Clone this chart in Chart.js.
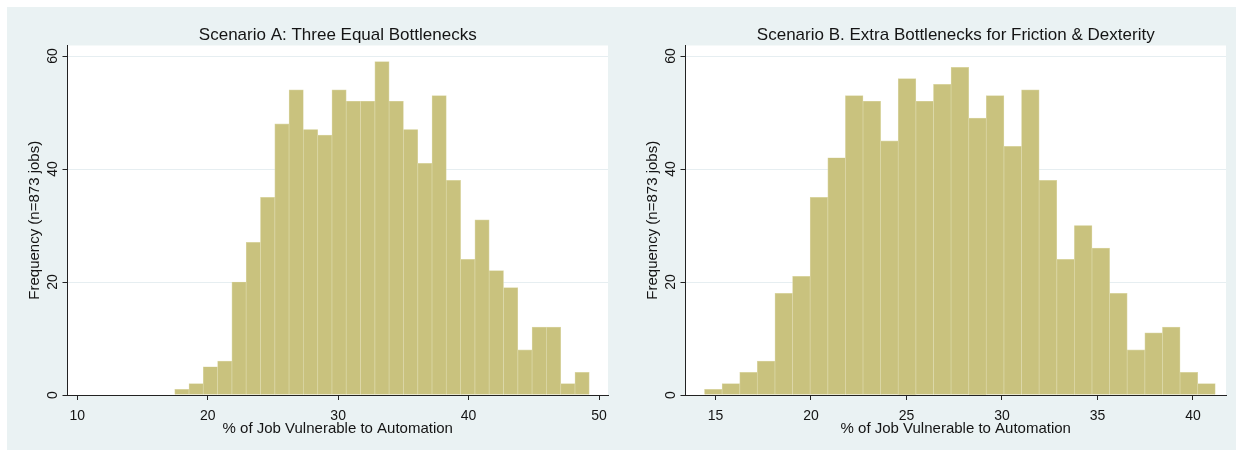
<!DOCTYPE html>
<html>
<head>
<meta charset="utf-8">
<script src="https://cdn.jsdelivr.net/npm/chart.js@4.4.1/dist/chart.umd.min.js"></script>
<style>
  html, body { margin: 0; padding: 0; background: #ffffff; }
  #wrap { position: relative; width: 1236px; height: 452px; overflow: hidden; }
  #panel { position: absolute; left: 7px; top: 7px; width: 1229px; height: 443px; background: #eaf2f3; }
  canvas { position: absolute; top: 0; }
  #cA { left: 0; }
  #cB { left: 618px; }
</style>
</head>
<body>
<div id="wrap">
  <div id="panel"></div>
  <canvas id="cA" width="618" height="452"></canvas>
  <canvas id="cB" width="618" height="452"></canvas>
</div>
<script>
// Histogram counts (29 equal-width bins each, 873 jobs in total)
const countsA = [1, 2, 5, 6, 20, 27, 35, 48, 54, 47, 46, 54, 52, 52, 59, 52, 47, 41, 53, 38, 24, 31, 22, 19, 8, 12, 12, 2, 4];
const countsB = [1, 2, 4, 6, 18, 21, 35, 42, 53, 52, 45, 56, 52, 55, 58, 49, 53, 44, 54, 38, 24, 30, 26, 18, 8, 11, 12, 4, 2];

// Bin definitions: lower edge of the first bin and bin width (% vulnerable)
const binStartA = 17.47;
const binWidthA = 1.096;
const binStartB = 14.425;
const binWidthB = 0.9222;

// Axis ranges and tick labels
const xRangeA = [9.25, 50.69];
const xRangeB = [13.43, 41.73];
const xTicksA = [10, 20, 30, 40, 50];
const xTicksB = [15, 20, 25, 30, 35, 40];
const yTicks = [0, 20, 40, 60];
const yMax = 61.86;

// Text
const titleA = 'Scenario A: Three Equal Bottlenecks';
const titleB = 'Scenario B. Extra Bottlenecks for Friction & Dexterity';
const xTitle = '% of Job Vulnerable to Automation';
const yTitle = 'Frequency (n=873 jobs)';

const FONT = '"Liberation Sans", Arial, Helvetica, sans-serif';
const INK = '#141414';

function binsToPoints(start, width, counts) {
  return counts.map((c, i) => ({ x: start + (i + 0.5) * width, y: c }));
}

// Plot region background plus titles and tick labels in the Stata style
const stataText = {
  id: 'stataText',
  beforeDraw(chart) {
    const { ctx, chartArea: a } = chart;
    ctx.save();
    ctx.fillStyle = '#ffffff';
    ctx.fillRect(a.left, a.top, a.right - a.left, a.bottom - a.top);
    ctx.restore();
  },
  afterDraw(chart, args, opts) {
    const { ctx, chartArea: a, scales: { x, y } } = chart;
    const cx = (a.left + a.right) / 2;
    ctx.save();
    ctx.fillStyle = INK;
    ctx.textBaseline = 'alphabetic';
    ctx.textAlign = 'center';

    ctx.font = '17px ' + FONT;
    ctx.fillText(opts.title, cx, 40);

    ctx.font = '14px ' + FONT;
    x.ticks.forEach(t => ctx.fillText(String(t.value), x.getPixelForValue(t.value), 420));

    ctx.font = '15px ' + FONT;
    ctx.fillText(opts.xTitle, cx, 433);

    ctx.font = '14px ' + FONT;
    y.ticks.forEach(t => {
      ctx.save();
      ctx.translate(a.left - 11, y.getPixelForValue(t.value));
      ctx.rotate(-Math.PI / 2);
      ctx.fillText(String(t.value), 0, 0);
      ctx.restore();
    });

    ctx.font = '15px ' + FONT;
    ctx.save();
    ctx.translate(a.left - 29, (a.top + a.bottom) / 2);
    ctx.rotate(-Math.PI / 2);
    ctx.fillText(opts.yTitle, 0, 0);
    ctx.restore();

    ctx.restore();
  }
};

function makeHistogram(canvasId, counts, start, width, xRange, xTicks, title) {
  return new Chart(document.getElementById(canvasId), {
    type: 'bar',
    data: {
      datasets: [{
        data: binsToPoints(start, width, counts),
        backgroundColor: '#c9c27e',
        borderColor: '#dcd8a8',
        borderWidth: 0.7,
        barPercentage: 1,
        categoryPercentage: 1
      }]
    },
    options: {
      responsive: false,
      animation: false,
      devicePixelRatio: 1,
      layout: { padding: { top: 45.5, right: 10, left: 0, bottom: 0 } },
      plugins: {
        legend: { display: false },
        tooltip: { enabled: false },
        stataText: { title: title, xTitle: xTitle, yTitle: yTitle }
      },
      scales: {
        x: {
          type: 'linear',
          offset: false,
          min: xRange[0],
          max: xRange[1],
          afterBuildTicks: s => { s.ticks = xTicks.map(v => ({ value: v })); },
          afterFit: s => { s.height = 57; },
          ticks: { display: false },
          grid: { offset: false, drawOnChartArea: false, drawTicks: true, tickLength: 5, tickColor: '#222', tickWidth: 1 },
          border: { display: true, color: '#222', width: 1 }
        },
        y: {
          type: 'linear',
          min: 0,
          max: yMax,
          afterBuildTicks: s => { s.ticks = yTicks.map(v => ({ value: v })); },
          afterFit: s => { s.width = 67.5; },
          ticks: { display: false },
          grid: { color: '#e6eef1', lineWidth: 1, drawTicks: true, tickLength: 5, tickColor: '#222', tickWidth: 1 },
          border: { display: true, color: '#222', width: 1 }
        }
      }
    },
    plugins: [stataText]
  });
}

makeHistogram('cA', countsA, binStartA, binWidthA, xRangeA, xTicksA, titleA);
makeHistogram('cB', countsB, binStartB, binWidthB, xRangeB, xTicksB, titleB);
</script>
</body>
</html>
